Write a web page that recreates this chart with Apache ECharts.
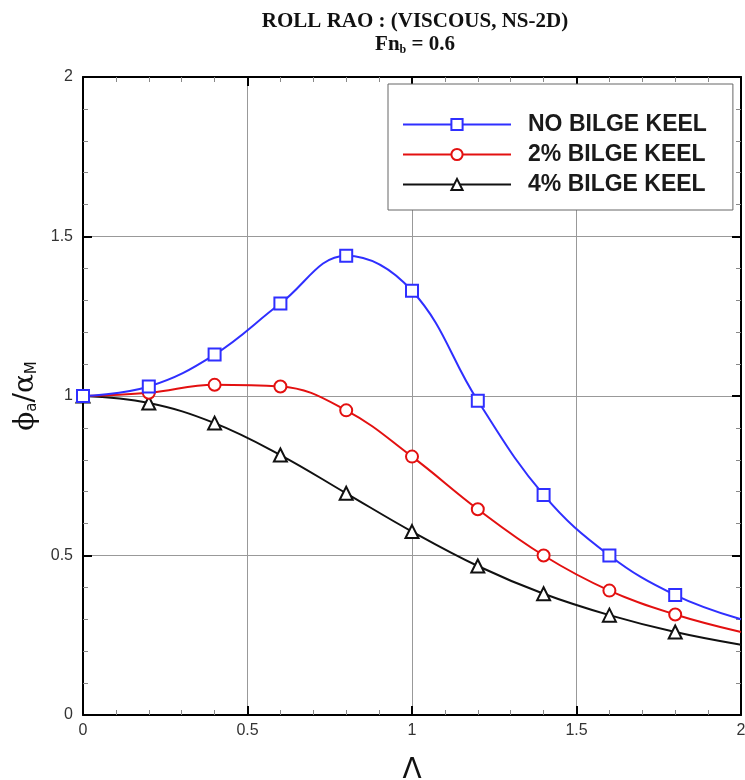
<!DOCTYPE html>
<html>
<head>
<meta charset="utf-8">
<script src="https://cdn.jsdelivr.net/npm/echarts@6/dist/echarts.min.js"></script>
<style>
  html, body { margin: 0; padding: 0; background: #fff; }
  #chart { width: 745px; height: 780px; }
</style>
</head>
<body>
<div id="chart"></div>
<script>
// Wave-length ratio Λ at which the roll response was computed
const lambda = [0, 0.2, 0.4, 0.6, 0.8, 1.0, 1.2, 1.4, 1.6, 1.8, 2.0];

// Roll amplitude ratio φa/αM for each hull configuration
const noKeel   = [1.00, 1.03, 1.13, 1.29, 1.44, 1.33, 0.985, 0.69, 0.50, 0.376, 0.30];
const keel2pct = [1.00, 1.01, 1.035, 1.03, 0.955, 0.81, 0.645, 0.50, 0.39, 0.315, 0.26];
const keel4pct = [1.00, 0.978, 0.915, 0.815, 0.695, 0.575, 0.467, 0.38, 0.313, 0.26, 0.22];

const seriesNames = ['NO BILGE KEEL', '2% BILGE KEEL', '4% BILGE KEEL'];
const seriesColors = ['#2f2fff', '#e31010', '#111111'];
const seriesSymbols = ['emptyRect', 'emptyCircle', 'emptyTriangle'];

const xTicks = [0, 0.5, 1, 1.5, 2];
const yTicks = [0, 0.5, 1, 1.5, 2];

// The last sample (Λ = 2) carries the curve to the frame without a marker
function toPoints(values) {
  return lambda.map((x, i) => (
    i === lambda.length - 1
      ? { value: [x, values[i]], symbol: 'none' }
      : [x, values[i]]
  ));
}

function fmt(v) { return String(v); }

const chart = echarts.init(document.getElementById('chart'));

const axisLabelStyle = {
  fontFamily: 'Liberation Sans, Arial, sans-serif',
  fontSize: 16,
  color: '#333'
};

const frameAxis = {
  axisLine: { show: true, onZero: false, lineStyle: { color: '#000', width: 2 } },
  axisTick: { show: true, inside: true, length: 9, lineStyle: { color: '#000', width: 2 } },
  minorTick: { show: true, splitNumber: 5, length: 5, lineStyle: { color: '#888', width: 1 } }
};

const option = {
  backgroundColor: '#fff',
  animation: false,
  title: {
    left: 410,
    top: 5,
    textAlign: 'center',
    text: '{t|ROLL RAO : (VISCOUS, NS-2D)}\n{t|Fn}{s|b}{t| = 0.6}',
    textStyle: {
      rich: {
        t: { fontFamily: 'Liberation Serif, Times New Roman, serif', fontWeight: 'bold', fontSize: 21, color: '#111', lineHeight: 23 },
        s: { fontFamily: 'Liberation Serif, Times New Roman, serif', fontWeight: 'bold', fontSize: 12, color: '#111', verticalAlign: 'bottom', padding: [9, 0, 0, 0] }
      }
    }
  },
  legend: {
    left: 388,
    top: 84,
    orient: 'vertical',
    padding: [29, 26, 14, 14],
    itemGap: 7,
    itemWidth: 108,
    itemHeight: 14,
    borderColor: '#666',
    borderWidth: 1,
    backgroundColor: '#fff',
    lineStyle: { width: 2 },
    data: seriesNames,
    textStyle: {
      fontFamily: 'Liberation Sans, Arial, sans-serif',
      fontWeight: 'bold',
      fontSize: 23,
      color: '#1a1a1a',
      padding: [0, 0, 0, 12]
    }
  },
  grid: { left: 83, right: 4, top: 77, bottom: 65, containLabel: false, outerBoundsMode: 'none' },
  xAxis: [
    Object.assign({
      type: 'value',
      min: 0, max: 2, interval: 0.5,
      name: 'Λ',
      nameLocation: 'middle',
      nameGap: 42,
      nameTextStyle: { fontFamily: 'DejaVu Sans, sans-serif', fontSize: 28, color: '#111' },
      axisLabel: Object.assign({ margin: 8, formatter: v => (xTicks.includes(v) ? fmt(v) : '') }, axisLabelStyle),
      splitLine: { show: true, lineStyle: { color: '#999', width: 1 } }
    }, frameAxis),
    Object.assign({
      type: 'value', position: 'top',
      min: 0, max: 2, interval: 0.5,
      axisLabel: { show: false },
      splitLine: { show: false }
    }, frameAxis)
  ],
  yAxis: [
    Object.assign({
      type: 'value',
      min: 0, max: 2, interval: 0.5,
      name: '{p|ϕ}{s|a}{p|/α}{s|M}',
      nameLocation: 'middle',
      nameRotate: 90,
      nameGap: 36,
      nameTextStyle: {
        rich: {
          p: { fontFamily: 'DejaVu Serif, serif', fontSize: 28, color: '#111' },
          s: { fontFamily: 'DejaVu Sans, sans-serif', fontSize: 15, color: '#111', verticalAlign: 'bottom', padding: [14, 0, 0, 0] }
        }
      },
      axisLabel: Object.assign({ margin: 10, formatter: v => (yTicks.includes(v) ? fmt(v) : '') }, axisLabelStyle),
      splitLine: { show: true, lineStyle: { color: '#999', width: 1 } }
    }, frameAxis),
    Object.assign({
      type: 'value', position: 'right',
      min: 0, max: 2, interval: 0.5,
      axisLabel: { show: false },
      splitLine: { show: false }
    }, frameAxis)
  ],
  series: [noKeel, keel2pct, keel4pct].map((vals, i) => ({
    name: seriesNames[i],
    type: 'line',
    xAxisIndex: 0,
    yAxisIndex: 0,
    smooth: 0.4,
    data: toPoints(vals),
    symbol: seriesSymbols[i],
    symbolSize: i === 2 ? 13 : 12,
    showAllSymbol: true,
    z: 10 - i,
    lineStyle: { color: seriesColors[i], width: 2 },
    itemStyle: { color: seriesColors[i], borderColor: seriesColors[i], borderWidth: 1.6 }
  }))
};

chart.setOption(option);
</script>
</body>
</html>
